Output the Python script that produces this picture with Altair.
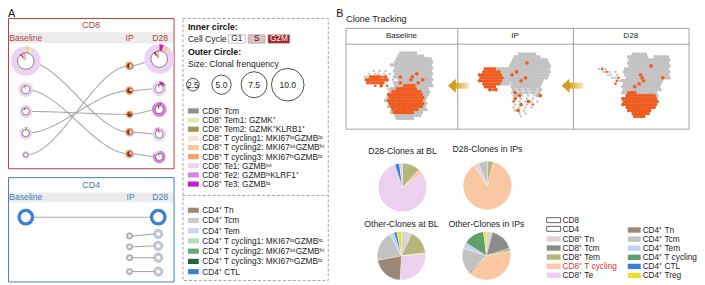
import math
import altair as alt
import numpy as np
import pandas as pd

FONT = "Liberation Sans"

# ===================== DATA =====================
TIMEPOINTS = ["Baseline", "IP", "D28"]
PANELS = ["CD8", "CD4"]

A_CD8_KEYS = ["tcm", "tem1", "tem2", "cyc1", "cyc2", "cyc3", "te1", "te2", "te3"]
A_CD8_LABELS = ["CD8⁺ Tcm", "CD8⁺ Tem1: GZMK⁺", "CD8⁺ Tem2: GZMK⁺KLRB1⁺",
                "CD8⁺ T cycling1: MKI67ˡᵒGZMBˡᵒ", "CD8⁺ T cycling2: MKI67ⁱⁿᵗGZMBʰⁱ",
                "CD8⁺ T cycling3: MKI67ʰⁱGZMBˡᵒ", "CD8⁺ Te1: GZMBⁱⁿᵗ",
                "CD8⁺ Te2: GZMBʰⁱKLRF1⁺", "CD8⁺ Te3: GZMBˡᵒ"]
A_CD4_KEYS = ["c4tn", "c4tcm", "c4tem", "c4cyc1", "c4cyc2", "c4cyc3", "c4ctl"]
A_CD4_LABELS = ["CD4⁺ Tn", "CD4⁺ Tcm", "CD4⁺ Tem",
                "CD4⁺ T cycling1: MKI67ˡᵒGZMBˡᵒ", "CD4⁺ T cycling2: MKI67ⁱⁿᵗGZMBʰⁱ",
                "CD4⁺ T cycling3: MKI67ʰⁱGZMBˡᵒ", "CD4⁺ CTL"]
CYCLE_KEYS = ["G1", "S", "G2M"]
SIZE_LEGEND = [2.5, 5.0, 7.5, 10.0]
SIZE_LEGEND_LABELS = ["2.5", "5.0", "7.5", "10.0"]

# CD8 clones (clonal frequency, outer composition, inner cell cycle)
CD8_BL_FREQ = [8.9, 3.3, 2.6, 2.6, 0.7]
CD8_IP_FREQ = [1.1, 1.0, 0.5, 1.1, 1.0]
CD8_D28_FREQ = [8.9, 3.3, 3.3, 3.0, 2.6]
CD8_BL_COMP = [[("cyc2", 5), ("tem1", 3), ("te1", 92)],
               [("cyc1", 7), ("te1", 93)],
               [("te2", 3), ("te1", 97)],
               [("tem2", 4), ("tem1", 6), ("te1", 90)],
               [("te1", 100)]]
CD8_IP_COMP = [[("cyc3", 100)], [("cyc3", 100)], [("cyc3", 100)], [("cyc3", 100)], [("cyc3", 100)]]
CD8_D28_COMP = [[("te3", 5), ("cyc2", 7), ("te1", 88)],
                [("te3", 12), ("tem2", 6), ("te1", 82)],
                [("te3", 6), ("te2", 94)],
                [("te1", 88), ("te2", 12)],
                [("te2", 85), ("te1", 15)]]
CD8_BL_CYCLE = [[("G1", 88), ("G2M", 3), ("S", 9)], [("G1", 92), ("G2M", 3), ("S", 5)],
                [("G1", 90), ("G2M", 5), ("S", 5)], [("G1", 95), ("S", 5)], [("G1", 100)]]
CD8_IP_CYCLE = [[("G1", 45), ("S", 10), ("G2M", 45)], [("G1", 30), ("G2M", 70)],
                [("G1", 15), ("G2M", 85)], [("G1", 50), ("G2M", 50)], [("G1", 35), ("G2M", 65)]]
CD8_D28_CYCLE = [[("G1", 88), ("G2M", 4), ("S", 8)], [("G1", 95), ("G2M", 5)],
                 [("G1", 92), ("G2M", 8)], [("G1", 96), ("G2M", 4)], [("G1", 94), ("G2M", 6)]]
CD8_BL_TO_IP = [3, 4, 2, 1, 0]
CD8_IP_TO_D28 = [0, 1, 2, 3, 4]

# CD4 clones
CD4_BL_FREQ = [4.1]
CD4_IP_FREQ = [0.1, 0.1, 0.1, 0.1]
CD4_D28_FREQ = [4.1, 1.1, 1.1, 1.1, 1.1]
CD4_BL_COMP = [[("c4ctl", 100)]]
CD4_IP_COMP = [[("c4tcm", 100)], [("c4tcm", 100)], [("c4tcm", 100)], [("c4tcm", 100)]]
CD4_D28_COMP = [[("c4ctl", 100)], [("c4tem", 100)], [("c4tem", 100)], [("c4tem", 100)], [("c4tem", 100)]]
CD4_BL_TO_D28 = [0]
CD4_IP_TO_D28 = [1, 2, 3, 4]

# Panel B pies
B_CD8_LABELS = ["CD8⁺ Tn", "CD8⁺ Tcm", "CD8⁺ Tem", "CD8⁺ T cycling", "CD8⁺ Te"]
B_CD4_LABELS = ["CD4⁺ Tn", "CD4⁺ Tcm", "CD4⁺ Tem", "CD4⁺ T cycling", "CD4⁺ CTL", "CD4⁺ Treg"]
PIE_TITLES = ["D28-Clones at BL", "D28-Clones in IPs", "Other-Clones at BL", "Other-Clones in IPs"]
PIE_SLICES = [
    [("CD8⁺ Tem", 12), ("CD8⁺ T cycling", 3), ("CD8⁺ Te", 80), ("CD4⁺ CTL", 3), ("CD8⁺ Tn", 2)],
    [("CD8⁺ Tem", 4), ("CD8⁺ T cycling", 87), ("CD8⁺ Tn", 3), ("CD4⁺ Tcm", 6)],
    [("CD8⁺ Tn", 7), ("CD8⁺ Tem", 16), ("CD8⁺ T cycling", 1), ("CD8⁺ Te", 27), ("CD4⁺ Tn", 21),
     ("CD4⁺ Tcm", 20), ("CD4⁺ Tem", 3), ("CD4⁺ CTL", 2), ("CD4⁺ Treg", 3)],
    [("CD8⁺ Tn", 4), ("CD8⁺ Tcm", 16), ("CD8⁺ Tem", 2), ("CD8⁺ T cycling", 40), ("CD4⁺ Tn", 1),
     ("CD4⁺ Tcm", 17), ("CD4⁺ Tem", 4), ("CD4⁺ T cycling", 14), ("CD4⁺ Treg", 2)],
]

# UMAP masks ('.' cell, ',' sparse cell, 'o' clone cell, '*' sparse clone cell)
BL_UMAP = [
    "             ......",
    "            .........",
    "            ............",
    "           .............",
    "          ..............",
    "           .............",
    "    , , ,  .............",
    "  , ,, , , .......o.....",
    " ,,oooo*o  ..o...o......",
    " oooooooo , ....o...o...",
    "  oooooo,  ..o.....o....",
    "    * o *  ...oooo......",
    "         ,..ooooooo....",
    "         .oooooooooo...",
    "         oooooooooooo..",
    "        ,oooooooooooo.",
    "        .oooooooooooo.",
    "         oooooooooooo.",
    "         .ooooooooooo.",
    "          ooooooooo...",
    "          .ooooooo...",
    "           .........",
    "            ......",
]
IP_UMAP = [
    "",
    "              ......",
    "             .........",
    "            ............",
    "            .....o.......",
    "           ..............",
    "   oooo..................",
    "  oooooo.....o...........",
    " oooooooo...o............",
    " oooooooo.......o.......",
    " oooooooo......o.......",
    "  oooooo...,..........",
    "   oooo     ..........",
    "    o*o     .,.,.,..,.",
    "            ,o,.,.,.,.",
    "            ,.o, , ,.o",
    "             o , , ,",
    "            * , ,o, ,",
    "             , o , *",
    "            , , , ,",
    "             ,o ,",
    "              , ,",
    "               ,",
]
D28_UMAP = [
    "",
    "             .....",
    "            .......  .....",
    "            ..............",
    "            ..............",
    "            .......o......",
    "  ,*,      ...............",
    "   ,*, ,  ................",
    "     ,, ,  .....o.........",
    "      ,,*  .....o......o..",
    "        *,.......o......",
    "       *  .....o.......",
    "          ....o........",
    "          .............",
    "          ..ooo.......",
    "           oooooooooo.",
    "          oooooooooooo",
    "          oooooooooooo",
    "          oooooooooooo",
    "           oooooooooo",
    "            oooooooo",
    "             oooooo",
    "              oooo",
]
UMAPS = [BL_UMAP, IP_UMAP, D28_UMAP]

# ===================== STYLE / LAYOUT =====================
A_PAL = {"tcm": "#8f8f8f", "tem1": "#e5e8b8", "tem2": "#9b9b4b", "cyc1": "#fbe3cf",
         "cyc2": "#f8c8a0", "cyc3": "#f4a366", "te1": "#eed2f3", "te2": "#d684e1", "te3": "#c11fce",
         "c4tn": "#9e8878", "c4tcm": "#c9c9c9", "c4tem": "#c9d4f0", "c4cyc1": "#b7dbbf",
         "c4cyc2": "#6aa777", "c4cyc3": "#1e6a34", "c4ctl": "#3b80d4"}
CYCLE_PAL = {"G1": "#ffffff", "S": "#e2bdbd", "G2M": "#a4231f"}
B_PAL = {"CD8⁺ Tn": "#dcd3da", "CD8⁺ Tcm": "#8c8c8c", "CD8⁺ Tem": "#b4b67a",
         "CD8⁺ T cycling": "#f9c8a2", "CD8⁺ Te": "#ebd0f0", "CD4⁺ Tn": "#9c8676",
         "CD4⁺ Tcm": "#c2c2c2", "CD4⁺ Tem": "#c6d1f2", "CD4⁺ T cycling": "#5e9f6c",
         "CD4⁺ CTL": "#3a7ed8", "CD4⁺ Treg": "#e8e030"}
RED = "#b5423c"
BLUE = "#3d80c4"
EDGE = "#a9a9a9"

XS = alt.Scale(domain=[8, 705], range=[0, 697])
YS = alt.Scale(domain=[8, 285], range=[0, 277])
TS = alt.Scale(domain=[0, 100], range=[0, 2 * math.pi])


def radius_px(v):
    return 3.0 + 1.35 * v


def X(f="x"):
    return alt.X(f"{f}:Q", scale=XS, axis=None)


def Y(f="y"):
    return alt.Y(f"{f}:Q", scale=YS, axis=None)


layers = []


def rect_layer(rows, **mark):
    df = pd.DataFrame(rows, columns=["x", "x2", "y", "y2", "fill"])
    return alt.Chart(df).mark_rect(**mark).encode(
        x=X("x"), x2=alt.X2("x2:Q"), y=Y("y"), y2=alt.Y2("y2:Q"),
        fill=alt.Fill("fill:N", scale=None))


def text_layer(rows, align="left", weight="normal", baseline="middle"):
    df = pd.DataFrame(rows, columns=["x", "y", "text", "size", "color"])
    return alt.Chart(df).mark_text(align=align, baseline=baseline, font=FONT, fontWeight=weight).encode(
        x=X(), y=Y(), text="text:N", size=alt.Size("size:Q", scale=None),
        color=alt.Color("color:N", scale=None))


def arc_layer(rows, **mark):
    df = pd.DataFrame(rows)
    return alt.Chart(df).mark_arc(**mark).encode(
        x=X(), y=Y(), theta=alt.Theta("t0:Q", scale=TS, stack=False), theta2=alt.Theta2("t1:Q"),
        radius=alt.Radius("ro:Q", scale=None), radius2=alt.Radius2("ri:Q"),
        fill=alt.Fill("fill:N", scale=None))


def ring_layer(rows):
    df = pd.DataFrame(rows)
    return alt.Chart(df).mark_arc(fillOpacity=0).encode(
        x=X(), y=Y(), theta=alt.Theta("t0:Q", scale=TS, stack=False), theta2=alt.Theta2("t1:Q"),
        radius=alt.Radius("ro:Q", scale=None), radius2=alt.Radius2("ri:Q"),
        stroke=alt.Stroke("stroke:N", scale=None), strokeWidth=alt.StrokeWidth("sw:Q", scale=None))


# ---------- Panel A boxes ----------
layers.append(rect_layer([(8.5, 176, 31, 42, "#ececec"), (8.5, 176, 193, 203, "#ececec")]))
box = pd.DataFrame([(8.5, 176, 17, 169, RED), (8.5, 176, 178, 283.5, BLUE)],
                   columns=["x", "x2", "y", "y2", "stroke"])
layers.append(alt.Chart(box).mark_rect(fill="transparent", strokeWidth=1).encode(
    x=X("x"), x2=alt.X2("x2:Q"), y=Y("y"), y2=alt.Y2("y2:Q"), stroke=alt.Stroke("stroke:N", scale=None)))

# legend A dashed box
dbox = pd.DataFrame([(185, 332, 17, 282)], columns=["x", "x2", "y", "y2"])
layers.append(alt.Chart(dbox).mark_rect(fill="transparent", stroke="#8a8a8a", strokeWidth=0.8,
                                        strokeDash=[3, 2]).encode(
    x=X("x"), x2=alt.X2("x2:Q"), y=Y("y"), y2=alt.Y2("y2:Q")))
sep = pd.DataFrame([(185, 332, 196)], columns=["x", "x2", "y"])
layers.append(alt.Chart(sep).mark_rule(stroke="#8a8a8a", strokeWidth=0.8, strokeDash=[3, 2]).encode(
    x=X("x"), x2=alt.X2("x2:Q"), y=Y("y")))

# ---------- Panel A nodes & edges ----------
NODE_X = {"CD8": [26, 131, 161], "CD4": [26, 131, 160]}
NODE_Y = {"CD8": [[60, 89, 111, 133, 155], [65, 90, 114, 132, 154], [58, 88, 109, 134, 157]],
          "CD4": [[218], [237, 248, 259, 273], [218, 235, 247, 259, 273]]}

arc_rows, ring_rows, edge_rows = [], [], []


def add_node(x, y, v, comp, cycle, inner_stroke, outer_stroke=None):
    ro = radius_px(v)
    ri = ro * 0.56
    acc = 0
    for k, val in comp:
        arc_rows.append(dict(x=x, y=y, t0=acc, t1=acc + val, ro=ro, ri=ri, fill=A_PAL[k]))
        acc += val
    acc = 0
    for k, val in cycle:
        arc_rows.append(dict(x=x, y=y, t0=acc, t1=acc + val, ro=ri, ri=0, fill=CYCLE_PAL[k]))
        acc += val
    ring_rows.append(dict(x=x, y=y, t0=0, t1=100, ro=ri, ri=0, stroke=inner_stroke, sw=0.6))
    if outer_stroke:
        ring_rows.append(dict(x=x, y=y, t0=0, t1=100, ro=ro, ri=0, stroke=outer_stroke, sw=0.6))


def add_edge(eid, x0, y0, x1, y1, n=40):
    t = np.linspace(0, 1, n)
    s = 3 * t ** 2 - 2 * t ** 3
    for i in range(n):
        edge_rows.append(dict(edge=eid, i=i, x=x0 + (x1 - x0) * t[i], y=y0 + (y1 - y0) * s[i]))


xs8, ys8 = NODE_X["CD8"], NODE_Y["CD8"]
for i, j in enumerate(CD8_BL_TO_IP):
    add_edge(f"c8a{i}", xs8[0], ys8[0][i], xs8[1], ys8[1][j])
for i, j in enumerate(CD8_IP_TO_D28):
    add_edge(f"c8b{i}", xs8[1], ys8[1][i], xs8[2], ys8[2][j])
xs4, ys4 = NODE_X["CD4"], NODE_Y["CD4"]
for i, j in enumerate(CD4_BL_TO_D28):
    add_edge(f"c4a{i}", xs4[0], ys4[0][i], xs4[2], ys4[2][j])
for i, j in enumerate(CD4_IP_TO_D28):
    add_edge(f"c4b{i}", xs4[1], ys4[1][i], xs4[2], ys4[2][j])

for t_idx, (freqs, comps, cycles) in enumerate([(CD8_BL_FREQ, CD8_BL_COMP, CD8_BL_CYCLE),
                                                 (CD8_IP_FREQ, CD8_IP_COMP, CD8_IP_CYCLE),
                                                 (CD8_D28_FREQ, CD8_D28_COMP, CD8_D28_CYCLE)]):
    for k in range(len(freqs)):
        add_node(xs8[t_idx], ys8[t_idx][k], freqs[k], comps[k], cycles[k], "#3a3a3a")

for t_idx, (freqs, comps) in enumerate([(CD4_BL_FREQ, CD4_BL_COMP), (CD4_IP_FREQ, CD4_IP_COMP),
                                         (CD4_D28_FREQ, CD4_D28_COMP)]):
    for k in range(len(freqs)):
        big = freqs[k] > 2
        add_node(xs4[t_idx], ys4[t_idx][k], freqs[k], comps[k], [("G1", 100)],
                 "#ffffff" if big else "#9a9a9a", None if big else "#8a8a8a")

edf = pd.DataFrame(edge_rows)
layers.append(alt.Chart(edf).mark_line(stroke=EDGE, strokeWidth=1.1).encode(
    x=X(), y=Y(), detail="edge:N", order="i:Q"))
layers.append(arc_layer(arc_rows))
layers.append(ring_layer(ring_rows))

# ---------- Legend A ----------
SIZE_X = [195, 224, 257, 291]
size_rings = []
for v, xc in zip(SIZE_LEGEND, SIZE_X):
    size_rings.append(dict(x=xc, y=84, t0=0, t1=100, ro=radius_px(v), ri=0, stroke="#222222", sw=0.8))
layers.append(ring_layer(size_rings))

cc_boxes = [(231, 248, 33.5, 42, CYCLE_PAL["G1"]), (251, 268, 33.5, 42, CYCLE_PAL["S"]),
            (271, 293, 33.5, 42, CYCLE_PAL["G2M"])]
layers.append(rect_layer(cc_boxes, stroke="#9a9a9a", strokeWidth=0.6))

sw_rows = []
for i, k in enumerate(A_CD8_KEYS):
    y = 110.5 + 9.25 * i
    sw_rows.append((190, 201, y - 2.6, y + 2.6, A_PAL[k]))
for i, k in enumerate(A_CD4_KEYS):
    y = 211 + 10.35 * i
    sw_rows.append((190, 201, y - 2.6, y + 2.6, A_PAL[k]))
for i, lab in enumerate(B_CD8_LABELS):
    y = 240 + 9.2 * i
    sw_rows.append((553, 567, y - 2.7, y + 2.7, B_PAL[lab]))
for i, lab in enumerate(B_CD4_LABELS):
    y = 231 + 9.2 * i
    sw_rows.append((635, 648, y - 2.7, y + 2.7, B_PAL[lab]))
layers.append(rect_layer(sw_rows))
icon = [(553, 567, 218.5, 223.5, "#ffffff"), (553, 567, 227.3, 232.3, "#ffffff")]
layers.append(rect_layer(icon, stroke="#222222", strokeWidth=0.7))

# ---------- Panel B: UMAP frame ----------
frame = pd.DataFrame([(350, 697, 27, 129)], columns=["x", "x2", "y", "y2"])
layers.append(alt.Chart(frame).mark_rect(fill="transparent", stroke="#8a8a8a", strokeWidth=0.8).encode(
    x=X("x"), x2=alt.X2("x2:Q"), y=Y("y"), y2=alt.Y2("y2:Q")))
hl = pd.DataFrame([(350, 697, 43)], columns=["x", "x2", "y"])
layers.append(alt.Chart(hl).mark_rule(stroke="#8a8a8a", strokeWidth=0.8).encode(
    x=X("x"), x2=alt.X2("x2:Q"), y=Y("y")))
vl = pd.DataFrame([(463, 27, 129), (580, 27, 129)], columns=["x", "y", "y2"])
layers.append(alt.Chart(vl).mark_rule(stroke="#8a8a8a", strokeWidth=0.8).encode(
    x=X("x"), y=Y("y"), y2=alt.Y2("y2:Q")))

UMAP_ORIGIN = [(366, 52), (482, 50), (600, 50)]
PITCH = 3
pts = []
for mask, (ox, oy) in zip(UMAPS, UMAP_ORIGIN):
    for r, row in enumerate(mask):
        shift = 1.5 if r % 2 else 0.0
        for c, ch in enumerate(row):
            px, py = ox + PITCH * c + shift, oy + PITCH * r
            if ch in ".,":
                pts.append(dict(x=px, y=py, c="#c2c2c2", s=15 if ch == "." else 6, z=0))
            elif ch in "o*":
                pts.append(dict(x=px, y=py, c="#ef5a1e", s=14 if ch == "o" else 7, z=1))
pdf = pd.DataFrame(pts)
layers.append(alt.Chart(pdf[pdf.z == 0]).mark_circle(opacity=1).encode(
    x=X(), y=Y(), color=alt.Color("c:N", scale=None), size=alt.Size("s:Q", scale=None)))
layers.append(alt.Chart(pdf[pdf.z == 1]).mark_circle(opacity=1).encode(
    x=X(), y=Y(), color=alt.Color("c:N", scale=None), size=alt.Size("s:Q", scale=None)))

# arrows
ARROWS = [(453, 474, 85), (568, 590, 85)]
body = pd.DataFrame([(a + 7, b, y - 3, y + 3) for a, b, y in ARROWS], columns=["x", "x2", "y", "y2"])
grad = alt.LinearGradient(gradient="linear",
                          stops=[alt.GradientStop(color="#d6a11c", offset=0),
                                 alt.GradientStop(color="#f6e8c0", offset=1)],
                          x1=0, x2=1, y1=0, y2=0)
layers.append(alt.Chart(body).mark_rect(color=grad).encode(
    x=X("x"), x2=alt.X2("x2:Q"), y=Y("y"), y2=alt.Y2("y2:Q")))
head = pd.DataFrame([(a + 4, y) for a, b, y in ARROWS], columns=["x", "y"])
layers.append(alt.Chart(head).mark_point(shape="M -0.57 0 L 0.57 -1 L 0.57 1 Z", filled=True,
                                         size=196, color="#d49e18", opacity=1).encode(x=X(), y=Y()))

# pies
PIE_CENTERS = [(407, 188), (493, 186), (406, 257), (492, 257)]
pie_rows = []
for (cx, cy), slices in zip(PIE_CENTERS, PIE_SLICES):
    acc = 0
    for lab, val in slices:
        pie_rows.append(dict(x=cx, y=cy, t0=acc, t1=acc + val, ro=24.5, ri=0, fill=B_PAL[lab]))
        acc += val
layers.append(arc_layer(pie_rows, stroke="#ffffff", strokeWidth=0.3))

# ---------- Texts ----------
TXT = "#222222"
left_rows = [
    (8, 13, "A", 11, "#111111"),
    (340, 13, "B", 11, "#111111"),
    (190, 38, "Cell Cycle", 8.7, TXT),
    (190, 63, "Size: Clonal frenquency", 8.7, TXT),
    (350, 18, "Clone Tracking", 9.2, TXT),
]
for i, lab in enumerate(A_CD8_LABELS):
    left_rows.append((204.5, 110.5 + 9.25 * i, lab, 8.4, TXT))
for i, lab in enumerate(A_CD4_LABELS):
    left_rows.append((204.5, 211 + 10.35 * i, lab, 8.4, TXT))
left_rows.append((569, 221, "CD8", 8.4, TXT))
left_rows.append((569, 229.8, "CD4", 8.4, TXT))
for i, lab in enumerate(B_CD8_LABELS):
    left_rows.append((569, 240 + 9.2 * i, lab, 8.4, "#e3342c" if lab == "CD8⁺ T cycling" else TXT))
for i, lab in enumerate(B_CD4_LABELS):
    left_rows.append((650, 231 + 9.2 * i, lab, 8.4, TXT))
layers.append(text_layer(left_rows))

bold_rows = [(190, 26, "Inner circle:", 8.9, "#111111"), (190, 51, "Outer Circle:", 8.9, "#111111")]
layers.append(text_layer(bold_rows, weight="bold"))

HEAD_X = {"CD8": [26, 131, 162], "CD4": [26, 132, 162]}
center_rows = [(92, 24, "CD8", 9.2, RED), (92, 185.5, "CD4", 9.2, BLUE)]
for p, yy, col in [("CD8", 36.5, RED), ("CD4", 198, BLUE)]:
    for tp, xx in zip(TIMEPOINTS, HEAD_X[p]):
        center_rows.append((xx, yy, tp, 8.7, col))
for lab, (a, b, _, _, _) in zip(CYCLE_KEYS, cc_boxes):
    center_rows.append(((a + b) / 2, 38, lab, 8.3, "#ffffff" if lab == "G2M" else TXT))
for lab, xc in zip(SIZE_LEGEND_LABELS, SIZE_X):
    center_rows.append((xc, 84, lab, 8.6, TXT))
for tp, xc in zip(TIMEPOINTS, [406, 521, 638]):
    center_rows.append((xc, 35, tp, 8.2, TXT))
for t, (cx, cy) in zip(PIE_TITLES, PIE_CENTERS):
    center_rows.append((cx, cy - (37 if cy < 200 else 32), t, 8.8, TXT))
layers.append(text_layer(center_rows, align="center"))

chart = alt.layer(*layers).properties(
    width=697, height=277, padding=0, autosize=alt.AutoSizeParams(type="none"),
    background="#ffffff",
).configure_view(stroke=None)

chart.save("out.html", embed_options={"renderer": "svg", "actions": False})
